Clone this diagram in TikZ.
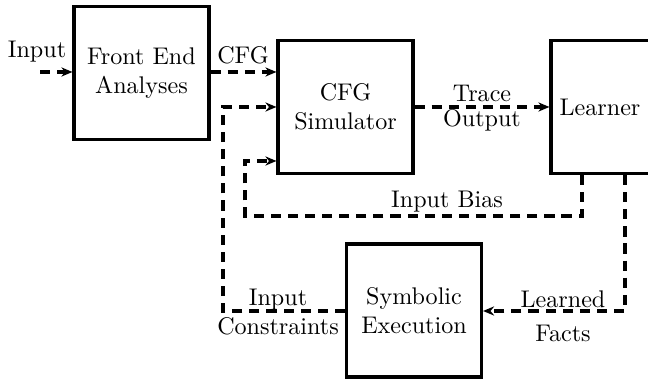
\documentclass[tikz,border=0pt]{standalone}
\usetikzlibrary{arrows.meta}
\begin{document}
\begin{tikzpicture}[x=0.415pt,y=-0.415pt,
  blk/.style={draw,line width=1.3pt,minimum width=56pt,minimum height=55.2pt,inner sep=0pt,align=center},
  flow/.style={line width=1.3pt,dash pattern=on 4.2pt off 2.9pt,-{Stealth[length=4.6pt,width=3.8pt]}},
  lbl/.style={inner sep=0pt,align=center}]
\useasboundingbox (0,0) rectangle (648,379);
\begin{scope}
\clip (0,0) rectangle (648,379);
\node[blk] (fe) at (141.5,73) {Front End\\Analyses};
\node[blk] (sim) at (345.5,107) {CFG\\Simulator};
\node[blk,minimum width=56pt] (lea) at (618.5,107) {};
\node[lbl] (leat) at (600,107) {Learner};
\node[blk] (sym) at (414,310.5) {Symbolic\\Execution};

\coordinate (in) at (40,72);
\draw[flow] (in) -- (in -| fe.west);
\node[lbl] (inl) at (37,52) {Input};

\draw[flow] (fe.east |- in) -- (in -| sim.west);
\node[lbl] (cfgl) at (243,55) {CFG};

\draw[flow] (sim.east) -- (lea.west);
\node[lbl,font={\fontsize{10}{10.5}\selectfont}] (trl) at (482,108) {Trace\\Output};

\coordinate (b1) at (582,216);
\coordinate (b2) at (245,216);
\coordinate (b3) at (245,161);
\draw[flow] (lea.south -| b1) -- (b1) -- (b2) -- (b3) -- (b3 -| sim.west);
\node[lbl] (ibl) at (447,202) {Input Bias};

\coordinate (f1) at (625,311);
\draw[flow] (lea.south -| f1) -- (f1) -- (f1 -| sym.east);
\node[lbl] (lfl) at (563,316) {Learned\\[2pt]Facts};

\coordinate (c1) at (223,311);
\coordinate (c2) at (223,107);
\draw[flow] (c1 -| sym.west) -- (c1) -- (c2) -- (sim.west);
\node[lbl] (icl) at (278,312) {Input\\Constraints};
\end{scope}
\end{tikzpicture}
\end{document}
